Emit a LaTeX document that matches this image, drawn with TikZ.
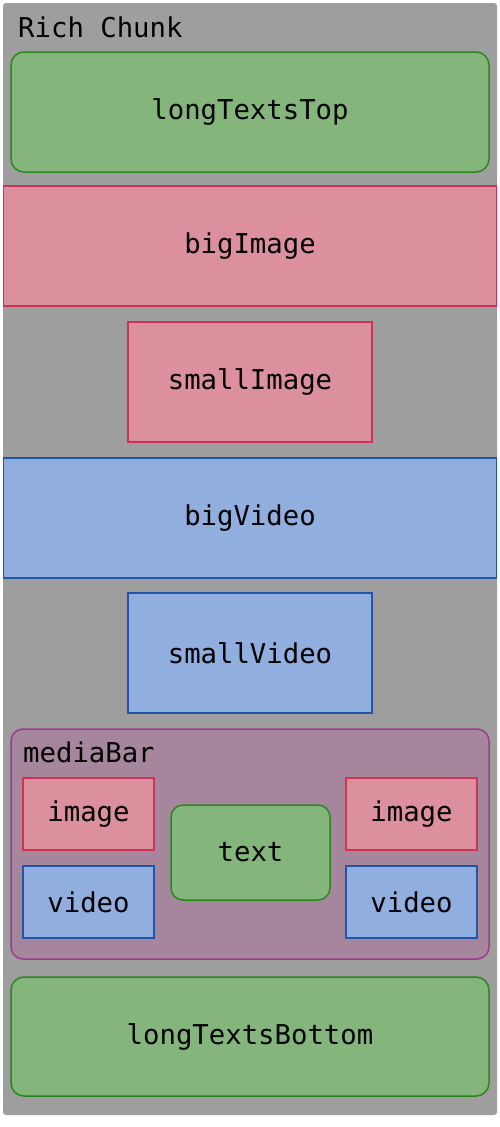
\documentclass[tikz,border=0pt]{standalone}
\usepackage{fontspec}
\setmonofont{DejaVu Sans Mono}
\definecolor{chunkgray}{HTML}{9E9E9E}
\definecolor{gfill}{HTML}{84B67B}
\definecolor{gline}{HTML}{2A861E}
\definecolor{pfill}{HTML}{DC909E}
\definecolor{pline}{HTML}{CC3355}
\definecolor{bfill}{HTML}{90AEDE}
\definecolor{bline}{HTML}{2255A8}
\definecolor{mfill}{HTML}{A6869C}
\definecolor{mline}{HTML}{A0388E}
\tikzset{
  lbl/.style={font=\ttfamily\fontsize{27.3}{32}\selectfont, text=black},
  textbox/.style={lbl, draw=gline, fill=gfill, line width=1.5pt, rounded corners=13pt, inner sep=0pt},
  imgbox/.style={lbl, draw=pline, fill=pfill, line width=1.5pt, inner sep=0pt},
  vidbox/.style={lbl, draw=bline, fill=bfill, line width=1.5pt, inner sep=0pt},
  barbox/.style={draw=mline, fill=mfill, line width=1.5pt, rounded corners=12pt, inner sep=0pt},
  chunkbox/.style={fill=chunkgray, rounded corners=3pt, inner sep=0pt}
}
\begin{document}
\begin{tikzpicture}[x=1pt,y=-1pt]
\useasboundingbox[fill=white] (0,0) rectangle (500,1127);
\node[chunkbox, minimum width=494pt, minimum height=1112pt] (chunk) at (250,559) {};
\node[lbl, anchor=base west, inner sep=0pt] (title) at (18,37) {Rich Chunk};
\node[textbox, minimum width=478pt, minimum height=120pt] (top) at (250,112) {longTextsTop};
\node[imgbox, minimum width=493pt, minimum height=120pt] (bigimg) at (250,246) {bigImage};
\node[imgbox, minimum width=244pt, minimum height=120pt] (smallimg) at (250,382) {smallImage};
\node[vidbox, minimum width=493pt, minimum height=120pt] (bigvid) at (250,518) {bigVideo};
\node[vidbox, minimum width=244pt, minimum height=120pt] (smallvid) at (250,653) {smallVideo};
\node[barbox, minimum width=478pt, minimum height=230pt] (bar) at (250,844) {};
\node[lbl, anchor=base west, inner sep=0pt] (bartitle) at (23,762) {mediaBar};
\node[imgbox, minimum width=131pt, minimum height=72pt] (img1) at (88.5,814) {image};
\node[vidbox, minimum width=131pt, minimum height=72pt] (vid1) at (88.5,902) {video};
\node[textbox, rounded corners=12pt, minimum width=159pt, minimum height=95pt] (txt) at (250.5,852.5) {text};
\node[imgbox, minimum width=131pt, minimum height=72pt] (img2) at (411.5,814) {image};
\node[vidbox, minimum width=131pt, minimum height=72pt] (vid2) at (411.5,902) {video};
\node[textbox, minimum width=478pt, minimum height=119pt] (bottom) at (250,1036.5) {longTextsBottom};
\end{tikzpicture}
\end{document}
